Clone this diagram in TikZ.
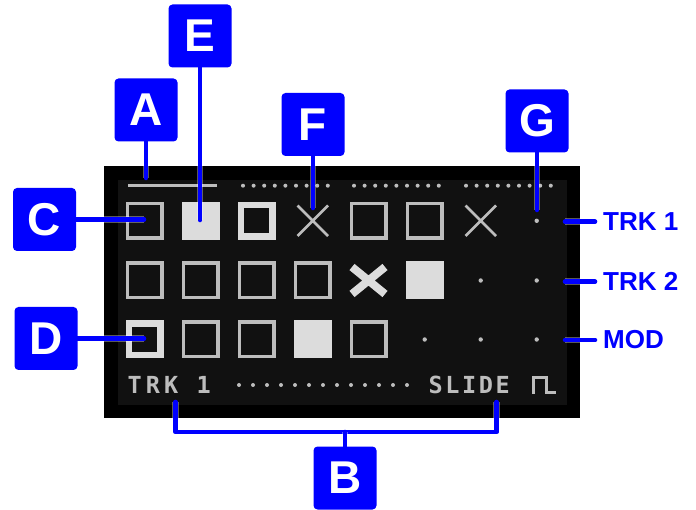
\documentclass[tikz,border=0pt]{standalone}
\usepackage{fontspec}
\setmainfont{Liberation Sans}
\newfontfamily\lcdfont[LetterSpace=17.5]{DejaVu Sans Mono}
\newfontfamily\lcdfontb[LetterSpace=11]{DejaVu Sans Mono}
\definecolor{lcdoff}{HTML}{111111}
\definecolor{lcdthin}{HTML}{BDBDBD}
\definecolor{lcdfull}{HTML}{DCDCDC}
\definecolor{lblue}{HTML}{0000FF}
\tikzset{
  cellthin/.style={draw=lcdthin,line width=3.5pt,minimum size=34.5pt,inner sep=0pt},
  cellthick/.style={draw=lcdfull,line width=6.5pt,minimum size=31.5pt,inner sep=0pt},
  cellfull/.style={fill=lcdfull,minimum size=38pt,inner sep=0pt},
  dotmark/.style={circle,fill=lcdthin,minimum size=4.4pt,inner sep=0pt},
  tag/.style={fill=lblue,rounded corners=4pt,minimum size=63pt,inner sep=0pt,text=white,
    font=\fontsize{46}{46}\selectfont\bfseries},
  sidelabel/.style={anchor=west,inner sep=8pt,text=lblue,font=\fontsize{26}{26}\selectfont\bfseries},
  lcdtext/.style={anchor=base west,inner sep=0pt,text=lcdthin,font=\fontsize{23.5}{23.5}\lcdfont\bfseries},
  lcdtextb/.style={anchor=base west,inner sep=0pt,text=lcdthin,font=\fontsize{23.5}{23.5}\lcdfontb\bfseries},
  conn/.style={draw=lblue,line width=4.6pt,line cap=round,line join=round,
    preaction={draw=white,draw opacity=.35,line width=6.6pt}},
}
\begin{document}
\begin{tikzpicture}[x=1pt,y=-1pt]
\useasboundingbox (0,0) rectangle (696,510);
\fill[black] (104,166.5) rectangle (580,418);
\fill[lcdoff] (118,180) rectangle (567,405);
% progress bar
\draw[lcdthin,line width=2.6pt] (128,185.7) -- (216.7,185.7);
\foreach \s in {243,354,466}{
  \foreach \i in {0,...,8}{
    \node[dotmark,minimum size=4pt] (top-\s-\i) at ({\s+10.6*\i},185.7) {};
  }
}
% row 1
\node[cellthin]  (r1c1) at (144.7,220.8) {};
\node[cellfull]  (r1c2) at (200.7,220.8) {};
\node[cellthick] (r1c3) at (256.7,220.8) {};
\draw[lcdthin,line width=2.8pt] (297.5,205.5) -- (328,236) (328,205.5) -- (297.5,236);
\node[cellthin]  (r1c5) at (368.7,220.8) {};
\node[cellthin]  (r1c6) at (424.7,220.8) {};
\draw[lcdthin,line width=2.8pt] (465.5,205.5) -- (496,236) (496,205.5) -- (465.5,236);
\node[dotmark]   (r1c8) at (536.7,220.8) {};
% row 2
\foreach \c/\x in {1/144.7,2/200.7,3/256.7,4/312.7}{
  \node[cellthin] (r2c\c) at (\x,280.5) {};
}
\draw[lcdfull,line width=8pt] (352,267) -- (385,294) (385,267) -- (352,294);
\node[cellfull]  (r2c6) at (424.7,280.5) {};
\node[dotmark]   (r2c7) at (480.7,280.5) {};
\node[dotmark]   (r2c8) at (536.7,280.5) {};
% row 3
\node[cellthick] (r3c1) at (144.7,339.5) {};
\node[cellthin]  (r3c2) at (200.7,339.5) {};
\node[cellthin]  (r3c3) at (256.7,339.5) {};
\node[cellfull]  (r3c4) at (312.7,339.5) {};
\node[cellthin]  (r3c5) at (368.7,339.5) {};
\node[dotmark]   (r3c6) at (424.7,339.5) {};
\node[dotmark]   (r3c7) at (480.7,339.5) {};
\node[dotmark]   (r3c8) at (536.7,339.5) {};
% status line
\node[lcdtext] (trk) at (127.5,393.5) {TRK 1};
\foreach \i in {0,...,12}{
  \node[dotmark,minimum size=4pt] (bot-\i) at ({239+14*\i},385) {};
}
\node[lcdtextb] (slide) at (428.5,393.5) {SLIDE};
\draw[lcdthin,line width=3pt,line join=miter] (533.5,394) -- (533.5,378) -- (546,378) -- (546,393) -- (556,393);
% tags
\node[tag] (A) at (146,110) {A};
\node[tag] (E) at (200,36) {E};
\node[tag] (F) at (313,124.5) {F};
\node[tag] (G) at (537,121) {G};
\node[tag] (C) at (44.5,219.5) {C};
\node[tag] (D) at (46,338.5) {D};
\node[tag] (B) at (345,478) {B};
% side labels
\node[sidelabel] (L1) at (595,221.7) {TRK 1};
\node[sidelabel] (L2) at (595,281.7) {TRK 2};
\node[sidelabel] (L3) at (595,340) {MOD};
% connector ends
\coordinate (endA) at (146,178);
\coordinate (endE) at (200,220);
\coordinate (endF) at (313,208);
\coordinate (endG) at (537,210);
\coordinate (endC) at (144,219.5);
\coordinate (endD) at (144,338.5);
\coordinate (end1) at (565,221.7);
\coordinate (end2) at (565,281.7);
\coordinate (end3) at (565,340);
\coordinate (brL) at (175.5,402);
\coordinate (brLc) at (175.5,432);
\coordinate (brR) at (496.7,402);
\coordinate (brRc) at (496.7,432);
\coordinate (brM) at (345,432);
% connectors
\draw[conn] (A.south) -- (endA);
\draw[conn] (E.south) -- (endE);
\draw[conn] (F.south) -- (endF);
\draw[conn] (G.south) -- (endG);
\draw[conn] (C.east) -- (endC);
\draw[conn] (D.east) -- (endD);
\draw[conn] (L1.west) -- (end1);
\draw[conn] (L2.west) -- (end2);
\draw[conn] (L3.west) -- (end3);
\draw[conn] (brL) -- (brLc) -- (brRc) -- (brR);
\draw[conn] (B.north) -- (brM);
\end{tikzpicture}
\end{document}
